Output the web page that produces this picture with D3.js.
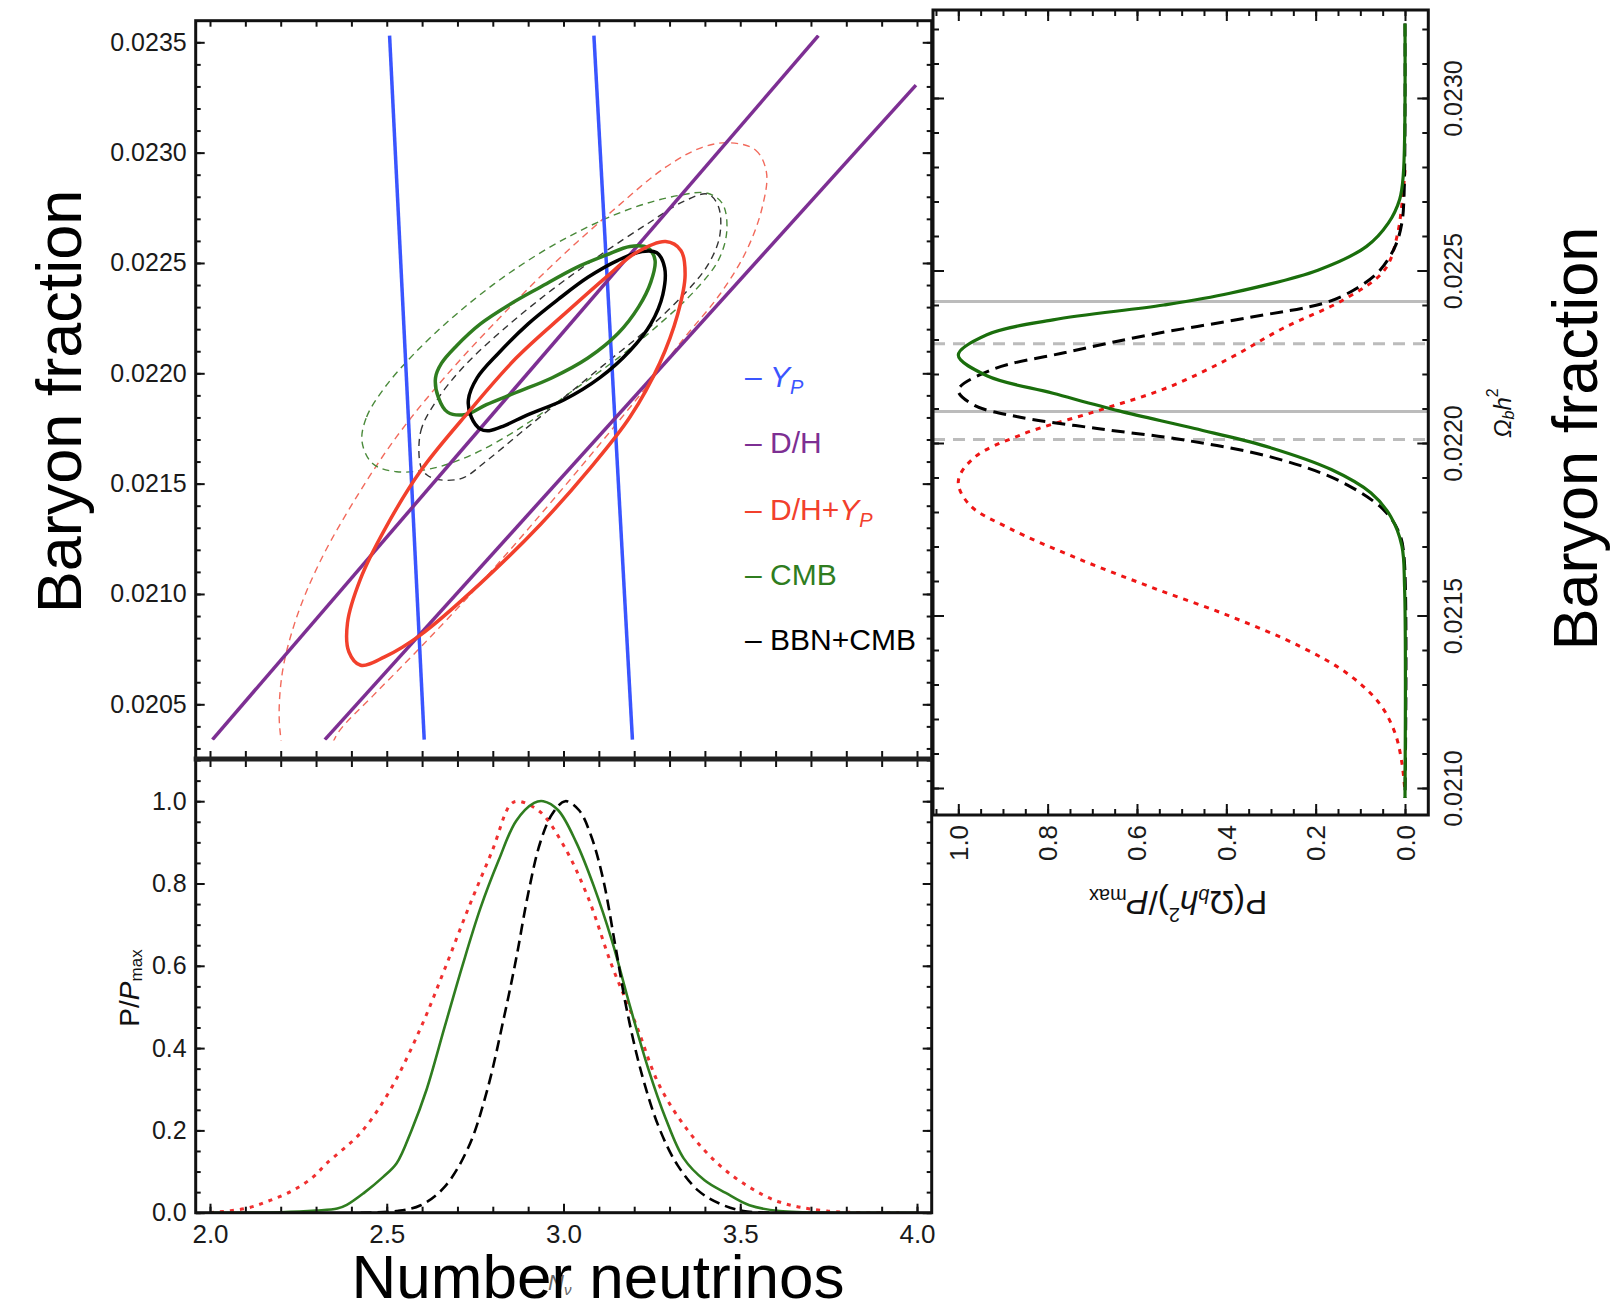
<!DOCTYPE html>
<html><head><meta charset="utf-8">
<script src="https://cdn.jsdelivr.net/npm/d3@7"></script>
<style>body{margin:0;background:#fff} svg{display:block} text{font-family:"Liberation Sans",Arial,Helvetica,sans-serif}</style>
</head><body><svg id="c" width="1614" height="1312"></svg>
<script>
// ---------------- DATA ----------------
// Main panel: x = N_nu, y = Omega_b h^2
const nuTicks = [2.0, 2.5, 3.0, 3.5, 4.0];
const nuTickLabels = ["2.0", "2.5", "3.0", "3.5", "4.0"];
const omegaMainTicks = [0.0205, 0.0210, 0.0215, 0.0220, 0.0225, 0.0230, 0.0235];
const omegaMainTickLabels = ["0.0205", "0.0210", "0.0215", "0.0220", "0.0225", "0.0230", "0.0235"];
const pTicks = [0, 0.2, 0.4, 0.6, 0.8, 1.0];
const pTickLabels = ["0.0", "0.2", "0.4", "0.6", "0.8", "1.0"];
const omegaSideTicks = [0.0210, 0.0215, 0.0220, 0.0225, 0.0230];
const omegaSideTickLabels = ["0.0210", "0.0215", "0.0220", "0.0225", "0.0230"];
const plotRangeOmega = [0.02034, 0.02353];

const legendLabels = ["Y_P", "D/H", "D/H+Y_P", "CMB", "BBN+CMB"];

// Y_P constraint lines [N_nu, Omega]
const ypLines = [
  [[2.508, 0.02353], [2.606, 0.02034]],
  [[3.086, 0.02353], [3.195, 0.02034]]
];
// D/H constraint lines
const dhLines = [
  [[2.007, 0.02034], [3.721, 0.02353]],
  [[2.325, 0.02034], [3.997, 0.023306]]
];
// D/H+Y_P contours
const dhypSolid = [[3.289,0.022597],[3.332,0.022557],[3.344,0.022446],[3.323,0.022268],[3.272,0.022046],[3.188,0.021802],[3.069,0.021558],[2.934,0.021314],[2.765,0.021048],[2.596,0.020815],[2.494,0.020715],[2.426,0.020677],[2.393,0.020737],[2.389,0.020870],[2.426,0.021070],[2.494,0.021292],[2.596,0.021558],[2.731,0.021824],[2.866,0.022069],[3.002,0.022268],[3.120,0.022435],[3.205,0.022546]];
const dhypDashed = [[3.467,0.023045],[3.543,0.023012],[3.574,0.022912],[3.563,0.022757],[3.518,0.022557],[3.442,0.022357],[3.340,0.022157],[3.222,0.021913],[3.086,0.021647],[2.934,0.021358],[2.765,0.021048],[2.596,0.020759],[2.460,0.020537],[2.367,0.020382],[2.308,0.020227],[2.223,0.020227],[2.198,0.020382],[2.203,0.020626],[2.240,0.020870],[2.308,0.021136],[2.409,0.021425],[2.528,0.021713],[2.663,0.021980],[2.816,0.022246],[2.968,0.022490],[3.137,0.022734],[3.289,0.022934],[3.391,0.023023]];
// CMB contours
const cmbSolid = [[2.672,0.021824],[2.646,0.021891],[2.638,0.021980],[2.655,0.022046],[2.697,0.022124],[2.765,0.022224],[2.849,0.022313],[2.934,0.022390],[3.036,0.022479],[3.120,0.022535],[3.188,0.022575],[3.239,0.022568],[3.259,0.022512],[3.247,0.022413],[3.213,0.022302],[3.154,0.022180],[3.069,0.022069],[2.968,0.021980],[2.866,0.021913],[2.782,0.021858],[2.723,0.021813]];
const cmbDashed = [[2.430,0.021691],[2.443,0.021802],[2.494,0.021935],[2.579,0.022091],[2.697,0.022268],[2.849,0.022457],[3.019,0.022623],[3.188,0.022745],[3.323,0.022805],[3.408,0.022816],[3.450,0.022768],[3.462,0.022646],[3.438,0.022512],[3.374,0.022379],[3.272,0.022224],[3.154,0.022069],[3.019,0.021913],[2.883,0.021758],[2.748,0.021636],[2.629,0.021569],[2.528,0.021554],[2.460,0.021591]];
// BBN+CMB contours
const bbnSolid = [[2.765,0.021747],[2.739,0.021802],[2.731,0.021880],[2.756,0.021980],[2.816,0.022091],[2.900,0.022224],[2.985,0.022335],[3.069,0.022435],[3.154,0.022512],[3.222,0.022552],[3.264,0.022546],[3.286,0.022479],[3.281,0.022357],[3.247,0.022224],[3.188,0.022102],[3.103,0.021980],[3.002,0.021880],[2.900,0.021813],[2.832,0.021762],[2.790,0.021740]];
const bbnDashed = [[2.596,0.021580],[2.596,0.021736],[2.638,0.021869],[2.714,0.022024],[2.832,0.022202],[2.968,0.022379],[3.103,0.022535],[3.239,0.022679],[3.340,0.022779],[3.408,0.022812],[3.438,0.022757],[3.442,0.022623],[3.408,0.022490],[3.340,0.022357],[3.239,0.022202],[3.120,0.022046],[3.002,0.021891],[2.883,0.021736],[2.782,0.021603],[2.714,0.021525],[2.646,0.021518],[2.613,0.021540]];

// Bottom panel: P/Pmax vs N_nu
const nuRed = [[2.0,0],[2.104,0.011],[2.17,0.03],[2.236,0.055],[2.292,0.087],[2.33,0.12],[2.426,0.194],[2.511,0.30],[2.596,0.449],[2.663,0.59],[2.731,0.74],[2.799,0.881],[2.849,0.991],[2.87,1.0],[2.934,0.974],[3.002,0.89],[3.069,0.767],[3.137,0.60],[3.205,0.458],[3.272,0.308],[3.357,0.194],[3.442,0.115],[3.526,0.062],[3.611,0.026],[3.746,0.004],[3.95,0]];
const nuGreen = [[2.0,0],[2.2,0.001],[2.30,0.005],[2.36,0.01],[2.387,0.019],[2.434,0.047],[2.49,0.087],[2.528,0.12],[2.57,0.2],[2.613,0.3],[2.663,0.449],[2.714,0.6],[2.765,0.74],[2.816,0.855],[2.866,0.952],[2.917,0.996],[2.943,1.0],[2.985,0.978],[3.036,0.9],[3.086,0.793],[3.137,0.661],[3.188,0.502],[3.239,0.352],[3.289,0.229],[3.34,0.132],[3.399,0.079],[3.459,0.048],[3.526,0.018],[3.611,0.004],[3.78,0],[4.0,0]];
const nuBlack = [[2.426,0],[2.528,0.004],[2.596,0.018],[2.663,0.062],[2.731,0.159],[2.782,0.291],[2.832,0.476],[2.866,0.617],[2.9,0.775],[2.934,0.899],[2.968,0.969],[3.005,1.0],[3.044,0.978],[3.078,0.916],[3.112,0.811],[3.146,0.652],[3.179,0.493],[3.222,0.335],[3.272,0.203],[3.323,0.115],[3.382,0.053],[3.442,0.022],[3.509,0.004],[3.594,0]];

// Side panel: P/Pmax vs Omega_b h^2 [Omega, P]
const omGreen = [[0.023216,0],[0.022774,0.004],[0.022706,0.012],[0.022638,0.037],[0.02257,0.086],[0.022501,0.195],[0.022434,0.392],[0.0224,0.54],[0.022357,0.788],[0.022314,0.936],[0.022255,1.0],[0.022195,0.936],[0.022144,0.788],[0.022093,0.64],[0.022042,0.471],[0.021991,0.313],[0.021923,0.165],[0.021855,0.076],[0.021787,0.032],[0.021702,0.007],[0.021583,0.001],[0.020971,0]];
const omBlack = [[0.023216,0],[0.022723,0.002],[0.022638,0.007],[0.02257,0.022],[0.022501,0.056],[0.02245,0.106],[0.022408,0.175],[0.022365,0.343],[0.022314,0.57],[0.022263,0.758],[0.022212,0.926],[0.022153,1.0],[0.02211,0.965],[0.022076,0.867],[0.022042,0.689],[0.022008,0.491],[0.021957,0.293],[0.021889,0.145],[0.021804,0.046],[0.021736,0.012],[0.021668,0.002],[0.020971,0]];
const omRed = [[0.022791,0],[0.022604,0.017],[0.022501,0.046],[0.022417,0.135],[0.022332,0.274],[0.022246,0.392],[0.022161,0.531],[0.022093,0.689],[0.022025,0.857],[0.021957,0.965],[0.021889,1.0],[0.021821,0.975],[0.021753,0.886],[0.021668,0.738],[0.021583,0.57],[0.021498,0.392],[0.02141,0.234],[0.021328,0.125],[0.021243,0.056],[0.021158,0.022],[0.021073,0.007],[0.020988,0]];
const omGraySolid = [0.02241, 0.022091];
const omGrayDashed = [0.022288, 0.02201];

// ---------------- LAYOUT ----------------
const svg = d3.select("#c");
const L = 195.7, R = 931.7, T = 20.7, MID = 759, B = 1212.7;
const SL = 933, SR = 1428.3, ST = 10, SB = 815;

const xN = d3.scaleLinear().domain([2, 4]).range([210, 917]);
const yW = d3.scaleLinear().domain([0.0205, 0.0235]).range([704.3, 42.3]);
const yP = d3.scaleLinear().domain([0, 1]).range([B, 801.2]);
const yS = d3.scaleLinear().domain([0.0210, 0.0230]).range([788, 98]);
const xS = d3.scaleLinear().domain([0, 1]).range([1405, 958.3]);

const BLUE = "#3a55ff", PURPLE = "#7d2f93", RED = "#f2402c", GREEN = "#2f7d1f";
const defs = svg.append("defs");
defs.append("clipPath").attr("id","cTop").append("rect")
  .attr("x", L).attr("y", yW(plotRangeOmega[1]) - 1).attr("width", R - L).attr("height", yW(plotRangeOmega[0]) - yW(plotRangeOmega[1]) + 2);
defs.append("clipPath").attr("id","cBot").append("rect")
  .attr("x", L).attr("y", MID).attr("width", R - L).attr("height", B - MID);
defs.append("clipPath").attr("id","cSide").append("rect")
  .attr("x", SL).attr("y", ST).attr("width", SR - SL).attr("height", SB - ST);

const range = (a, b, s) => d3.range(Math.round(a / s), Math.round(b / s) + 1).map(i => +(i * s).toFixed(6));

function axis(gen, scale, vals, size, transform, labels) {
  const a = gen(scale).tickValues(vals).tickSize(size).tickSizeOuter(0).tickPadding(6)
    .tickFormat(labels ? ((d, i) => labels[i]) : "");
  const g = svg.append("g").attr("transform", transform).call(a);
  g.select(".domain").remove();
  g.selectAll(".tick line").attr("stroke", "#111").attr("stroke-width", 2);
  g.selectAll("text").attr("fill", "#1a1a1a").attr("font-family", "Liberation Sans, Arial, sans-serif");
  return g;
}

// ---------- Top panel ----------
const topG = svg.append("g").attr("clip-path", "url(#cTop)");
const lineW = d3.line().x(d => xN(d[0])).y(d => yW(d[1]));
const closedW = d3.line().x(d => xN(d[0])).y(d => yW(d[1])).curve(d3.curveCatmullRomClosed.alpha(0.5));

topG.append("path").attr("d", closedW(dhypDashed)).attr("fill","none").attr("stroke","#f26a5c").attr("stroke-width",1.4).attr("stroke-dasharray","7,5");
topG.append("path").attr("d", closedW(cmbDashed)).attr("fill","none").attr("stroke","#4a8a3a").attr("stroke-width",1.4).attr("stroke-dasharray","7,5");
topG.append("path").attr("d", closedW(bbnDashed)).attr("fill","none").attr("stroke","#333").attr("stroke-width",1.4).attr("stroke-dasharray","7,5");
ypLines.forEach(l => topG.append("path").attr("d", lineW(l)).attr("stroke", BLUE).attr("stroke-width", 3.5).attr("fill","none"));
dhLines.forEach(l => topG.append("path").attr("d", lineW(l)).attr("stroke", PURPLE).attr("stroke-width", 3.5).attr("fill","none"));
topG.append("path").attr("d", closedW(cmbSolid)).attr("fill","none").attr("stroke", GREEN).attr("stroke-width",3.5);
topG.append("path").attr("d", closedW(bbnSolid)).attr("fill","none").attr("stroke","#000").attr("stroke-width",3.5);
topG.append("path").attr("d", closedW(dhypSolid)).attr("fill","none").attr("stroke", RED).attr("stroke-width",3.5);

// top panel axes
const wMinor = range(0.0203, 0.0235, 0.0001).filter(v => yW(v) > T && yW(v) < MID);
const nMinor = range(2.0, 4.0, 0.1);
axis(d3.axisLeft, yW, wMinor, -5, `translate(${L},0)`);
axis(d3.axisLeft, yW, omegaMainTicks, -9, `translate(${L},0)`, omegaMainTickLabels)
  .selectAll("text").attr("font-size", 25).attr("x", -9);
axis(d3.axisRight, yW, wMinor, -5, `translate(${R},0)`);
axis(d3.axisRight, yW, omegaMainTicks, -9, `translate(${R},0)`);
axis(d3.axisTop, xN, nMinor, -6, `translate(0,${T})`);
axis(d3.axisBottom, xN, nMinor, 8, `translate(0,${MID})`);
axis(d3.axisTop, xN, nMinor, 8, `translate(0,${MID})`);

// legend
const legColors = [BLUE, PURPLE, RED, GREEN, "#000"];
const legY = [376.7, 442.7, 510, 575, 640];
const leg = svg.append("g");
legendLabels.forEach((lab, i) => {
  const t = leg.append("text").attr("x", 745).attr("y", legY[i] + 10).attr("font-size", 30).attr("fill", legColors[i]);
  t.append("tspan").text("– ");
  if (lab === "Y_P") {
    t.append("tspan").attr("font-style","italic").text("Y");
    t.append("tspan").attr("font-style","italic").attr("font-size", 20).attr("dy", 7).text("P");
  } else if (lab === "D/H+Y_P") {
    t.append("tspan").text("D/H+");
    t.append("tspan").attr("font-style","italic").text("Y");
    t.append("tspan").attr("font-style","italic").attr("font-size", 20).attr("dy", 7).text("P");
  } else t.append("tspan").text(lab);
});

// ---------- Bottom panel ----------
const botG = svg.append("g").attr("clip-path", "url(#cBot)");
const lineP = d3.line().x(d => xN(d[0])).y(d => yP(d[1])).curve(d3.curveCatmullRom.alpha(0.5));
botG.append("path").attr("d", lineP(nuRed)).attr("fill","none").attr("stroke","#f03030").attr("stroke-width",3).attr("stroke-dasharray","4,6");
botG.append("path").attr("d", lineP(nuGreen)).attr("fill","none").attr("stroke", GREEN).attr("stroke-width",2.6);
botG.append("path").attr("d", lineP(nuBlack)).attr("fill","none").attr("stroke","#000").attr("stroke-width",2.6).attr("stroke-dasharray","11,6");

const pMinor = range(0, 1.1, 0.05);
axis(d3.axisLeft, yP, pMinor, -5, `translate(${L},0)`);
axis(d3.axisLeft, yP, pTicks, -9, `translate(${L},0)`, pTickLabels)
  .selectAll("text").attr("font-size", 25).attr("x", -9);
axis(d3.axisRight, yP, pMinor, -5, `translate(${R},0)`);
axis(d3.axisRight, yP, pTicks, -9, `translate(${R},0)`);
axis(d3.axisBottom, xN, nMinor, -6, `translate(0,${B})`);
axis(d3.axisBottom, xN, nuTicks, -9, `translate(0,${B})`, nuTickLabels)
  .selectAll("text").attr("font-size", 26).attr("y", 12);

// frames
svg.append("rect").attr("x", L).attr("y", T).attr("width", R - L).attr("height", B - T).attr("fill","none").attr("stroke","#111").attr("stroke-width",3);
svg.append("line").attr("x1", L - 2).attr("x2", R + 2).attr("y1", MID).attr("y2", MID).attr("stroke","#222").attr("stroke-width",5);

// ---------- Side panel ----------
const sideG = svg.append("g").attr("clip-path", "url(#cSide)");
omGraySolid.forEach(w => sideG.append("line").attr("x1", SL).attr("x2", SR).attr("y1", yS(w)).attr("y2", yS(w)).attr("stroke","#bcbcbc").attr("stroke-width",3));
omGrayDashed.forEach(w => sideG.append("line").attr("x1", SL).attr("x2", SR).attr("y1", yS(w)).attr("y2", yS(w)).attr("stroke","#bcbcbc").attr("stroke-width",3).attr("stroke-dasharray","12,8"));
const lineS = d3.line().x(d => xS(d[1])).y(d => yS(d[0])).curve(d3.curveCatmullRom.alpha(0.5));
sideG.append("path").attr("d", lineS(omRed)).attr("fill","none").attr("stroke","#ee1515").attr("stroke-width",3).attr("stroke-dasharray","5,6");
sideG.append("path").attr("d", lineS(omBlack)).attr("fill","none").attr("stroke","#000").attr("stroke-width",3).attr("stroke-dasharray","13,7");
sideG.append("path").attr("d", lineS(omGreen)).attr("fill","none").attr("stroke","#1a6e0c").attr("stroke-width",3.2);

const sMinor = range(0.0209, 0.0233, 0.0001).filter(v => yS(v) > ST && yS(v) < SB);
const psMinor = range(0, 1.05, 0.05);
axis(d3.axisRight, yS, sMinor, 6, `translate(${SL},0)`);
axis(d3.axisRight, yS, omegaSideTicks, 11, `translate(${SL},0)`);
axis(d3.axisRight, yS, sMinor, -6, `translate(${SR},0)`);
const sAx = axis(d3.axisRight, yS, omegaSideTicks, -11, `translate(${SR},0)`, omegaSideTickLabels);
sAx.selectAll("text").attr("font-size", 25).attr("x", 0).attr("dy", null).attr("text-anchor","middle")
  .attr("dominant-baseline","central").attr("transform","translate(25,0) rotate(-90)");
axis(d3.axisTop, xS, psMinor, -6, `translate(0,${ST})`);
axis(d3.axisTop, xS, pTicks, -11, `translate(0,${ST})`);
axis(d3.axisBottom, xS, psMinor, -6, `translate(0,${SB})`);
const pAx = axis(d3.axisBottom, xS, pTicks, -11, `translate(0,${SB})`, pTickLabels);
pAx.selectAll("text").attr("font-size", 26).attr("y", 0).attr("dy", null).attr("text-anchor","middle")
  .attr("dominant-baseline","central").attr("transform","translate(0,28) rotate(-90)");
svg.append("rect").attr("x", SL).attr("y", ST).attr("width", SR - SL).attr("height", SB - ST).attr("fill","none").attr("stroke","#111").attr("stroke-width",3);

// side labels
const sx = svg.append("text").attr("transform","translate(1178,903) rotate(180)").attr("text-anchor","middle")
  .attr("dominant-baseline","central").attr("font-size", 33).attr("fill","#111");
sx.append("tspan").text("P(Ω");
sx.append("tspan").attr("font-style","italic").attr("font-size",20).attr("dy",7).text("b");
sx.append("tspan").attr("font-style","italic").attr("dy",-7).text("h");
sx.append("tspan").attr("font-size",20).attr("dy",-12).text("2");
sx.append("tspan").attr("dy",12).text(")/");
sx.append("tspan").attr("font-style","italic").text("P");
sx.append("tspan").attr("font-size",20).attr("dy",7).text("max");

const so = svg.append("text").attr("transform","translate(1501.7,413) rotate(-90)").attr("text-anchor","middle")
  .attr("dominant-baseline","central").attr("font-size", 24).attr("fill","#111");
so.append("tspan").attr("font-style","italic").text("Ω");
so.append("tspan").attr("font-style","italic").attr("font-size",16).attr("dy",6).text("b");
so.append("tspan").attr("font-style","italic").attr("dy",-6).text("h");
so.append("tspan").attr("font-size",16).attr("dy",-10).text("2");

// bottom panel y label
const py = svg.append("text").attr("transform","translate(129,988) rotate(-90)").attr("text-anchor","middle")
  .attr("dominant-baseline","central").attr("font-size", 28).attr("fill","#111");
py.append("tspan").text("P/");
py.append("tspan").attr("font-style","italic").text("P");
py.append("tspan").attr("font-size",17).attr("dy",7).text("max");

// N_nu small label (partly hidden behind the big axis title, as in the original)
const nn = svg.append("text").attr("x", 548).attr("y", 1290).attr("font-size", 22).attr("fill","#666").attr("font-style","italic");
nn.append("tspan").text("N");
nn.append("tspan").attr("font-size", 15).attr("dy", 5).text("ν");

// big labels
svg.append("text").attr("transform","translate(81,401.5) rotate(-90)").attr("text-anchor","middle")
  .attr("font-size", 63).attr("fill","#000").text("Baryon fraction");
svg.append("text").attr("transform","translate(1597,438.6) rotate(-90)").attr("text-anchor","middle")
  .attr("font-size", 63).attr("fill","#000").text("Baryon fraction");
svg.append("text").attr("x", 598).attr("y", 1298).attr("text-anchor","middle")
  .attr("font-size", 62).attr("fill","#000").text("Number neutrinos");
</script></body></html>
